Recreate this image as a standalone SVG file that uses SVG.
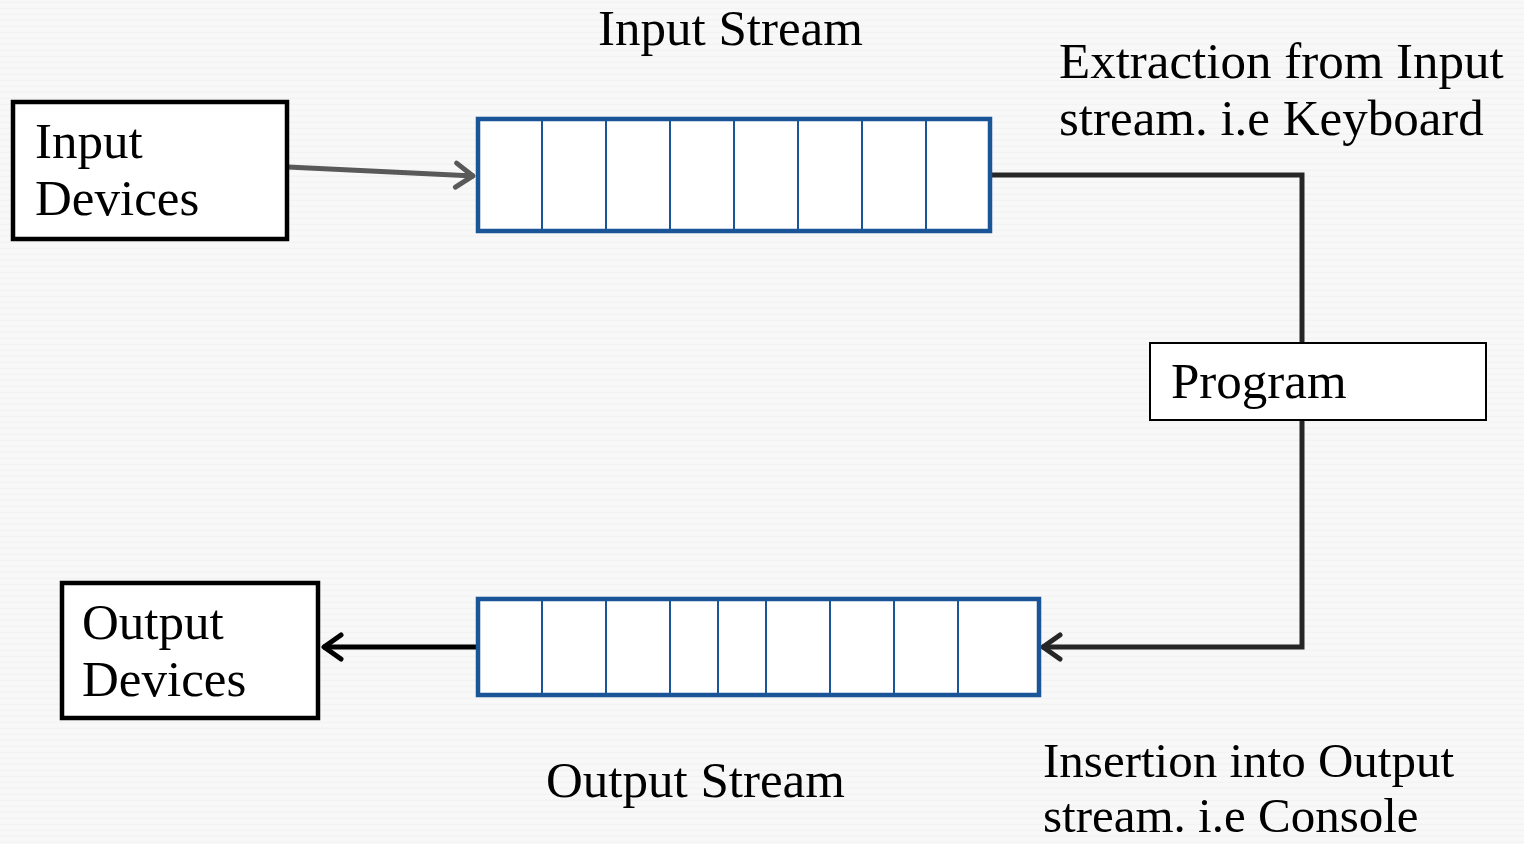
<svg xmlns="http://www.w3.org/2000/svg" width="1524" height="844" viewBox="0 0 1524 844">
<defs>
<pattern id="bgp" width="8" height="6" patternUnits="userSpaceOnUse">
<rect width="8" height="6" fill="#f8f8f8"/>
<path d="M0 3 L2 1.5 L4 3 L6 1.5 L8 3" fill="none" stroke="#efefef" stroke-width="0.8"/>
</pattern>
<marker id="arrG" markerUnits="userSpaceOnUse" markerWidth="34" markerHeight="34" refX="24" refY="17" orient="auto">
<path d="M6 5 L23 17 L6 29" fill="none" stroke="#595959" stroke-width="5" stroke-linecap="round" stroke-linejoin="round"/>
</marker>
<marker id="arrK" markerUnits="userSpaceOnUse" markerWidth="34" markerHeight="34" refX="24" refY="17" orient="auto">
<path d="M6 5 L23 17 L6 29" fill="none" stroke="#000" stroke-width="5" stroke-linecap="round" stroke-linejoin="round"/>
</marker>
<marker id="arrD" markerUnits="userSpaceOnUse" markerWidth="34" markerHeight="34" refX="24" refY="17" orient="auto">
<path d="M6 5 L23 17 L6 29" fill="none" stroke="#262626" stroke-width="5" stroke-linecap="round" stroke-linejoin="round"/>
</marker>
</defs>
<style>
text{font-family:"Liberation Serif","DejaVu Serif",serif;font-size:51px;fill:#000}
.small{font-size:49px}
.box{fill:#fff;stroke:#000;stroke-width:4.5}
.prog{fill:#fff;stroke:#000;stroke-width:2}
.queue{fill:#fff;stroke:#1a5597;stroke-width:4.5}
.cell{stroke:#1a5597;stroke-width:2}
.conn{fill:none;stroke-width:5}
</style>
<rect width="1524" height="844" fill="url(#bgp)"/>

<g id="connectors">
<path class="conn" d="M288 167 L474 176" stroke="#595959" marker-end="url(#arrG)"/>
<path class="conn" d="M990 175 L1302 175 L1302 343" stroke="#262626"/>
<path class="conn" d="M1302 420 L1302 647 L1042 647" stroke="#262626" marker-end="url(#arrD)"/>
<path class="conn" d="M478 647 L323 647" stroke="#000" marker-end="url(#arrK)"/>
</g>

<g id="input-devices">
<rect class="box" x="13" y="102" width="274" height="137"/>
<text x="35" y="158">Input</text>
<text x="35" y="215">Devices</text>
</g>

<g id="input-stream">
<rect class="queue" x="478" y="119" width="512" height="112"/>
<g class="cell">
<line x1="542" y1="119" x2="542" y2="231"/>
<line x1="606" y1="119" x2="606" y2="231"/>
<line x1="670" y1="119" x2="670" y2="231"/>
<line x1="734" y1="119" x2="734" y2="231"/>
<line x1="798" y1="119" x2="798" y2="231"/>
<line x1="862" y1="119" x2="862" y2="231"/>
<line x1="926" y1="119" x2="926" y2="231"/>
</g>
<text x="598" y="45">Input Stream</text>
</g>

<g id="extraction-label">
<text x="1059" y="78">Extraction from Input</text>
<text x="1059" y="135">stream. i.e Keyboard</text>
</g>

<g id="program">
<rect class="prog" x="1150" y="343" width="336" height="77"/>
<text x="1171" y="398">Program</text>
</g>

<g id="output-stream">
<rect class="queue" x="478" y="599" width="561" height="96"/>
<g class="cell">
<line x1="542" y1="599" x2="542" y2="695"/>
<line x1="606" y1="599" x2="606" y2="695"/>
<line x1="670" y1="599" x2="670" y2="695"/>
<line x1="718" y1="599" x2="718" y2="695"/>
<line x1="766" y1="599" x2="766" y2="695"/>
<line x1="830" y1="599" x2="830" y2="695"/>
<line x1="894" y1="599" x2="894" y2="695"/>
<line x1="958" y1="599" x2="958" y2="695"/>
</g>
<text x="546" y="797">Output Stream</text>
</g>

<g id="output-devices">
<rect class="box" x="62" y="583" width="256" height="135"/>
<text x="82" y="639">Output</text>
<text x="82" y="696">Devices</text>
</g>

<g id="insertion-label">
<text class="small" x="1043" y="777">Insertion into Output</text>
<text class="small" x="1043" y="832">stream. i.e Console</text>
</g>
</svg>
